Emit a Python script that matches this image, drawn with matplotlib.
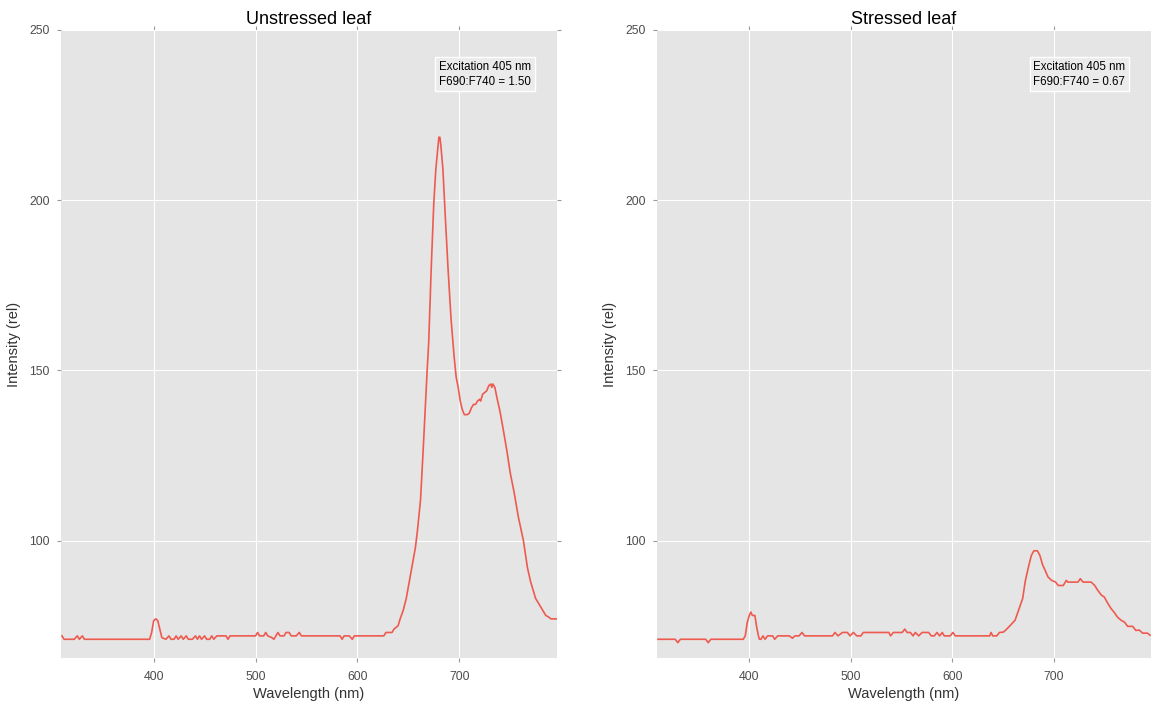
import matplotlib
matplotlib.use("Agg")
import matplotlib.pyplot as plt

plt.rcParams['font.family'] = ['Liberation Sans', 'DejaVu Sans']

# Unstressed leaf spectrum (wavelength nm, relative intensity)
wl_unstressed = [310, 312, 322, 325, 327, 330, 332, 396, 398, 400, 402, 404, 406, 408, 412, 415, 417,
                 420, 422, 424, 427, 429, 432, 434, 438, 441, 443, 445, 447, 450, 452, 455, 457, 459,
                 462, 471, 473, 475, 500, 502, 504, 508, 510, 512, 516, 518, 520, 522, 524, 528, 530,
                 533, 535, 540, 543, 545, 583, 585, 587, 592, 595, 597, 626, 628, 634, 636, 640, 642,
                 645, 648, 651, 654, 657, 659, 662, 664.5, 667, 668.5, 670, 672.5, 675, 677, 679, 680,
                 681, 682, 684, 686, 689, 692, 695, 697, 699, 701, 703, 705, 708, 710, 712, 714, 716,
                 718, 720, 721, 723, 725, 727, 729, 731, 732, 733, 735, 737, 740, 743, 747, 750, 754,
                 758, 763, 765, 767, 770, 773, 775, 777, 779, 781, 783, 785, 788, 790, 796]
int_unstressed = [72, 71, 71, 72, 71, 72, 71, 71, 73, 76.5, 77, 76.5, 74, 71.5, 71, 72, 71,
                  71, 72, 71, 72, 71, 72, 71, 71, 72, 71, 72, 71, 72, 71, 71, 72, 71,
                  72, 72, 71, 72, 72, 73, 72, 72, 73, 72, 71.5, 71, 72, 73, 72, 72, 73,
                  73, 72, 72, 73, 72, 72, 71, 72, 72, 71, 72, 72, 73, 73, 74, 75, 77,
                  79.5, 83, 88, 93, 98, 103, 112, 126, 141, 150, 158, 180, 199, 209, 215.5, 218.5,
                  218.5, 216, 209, 197, 180, 165, 154, 148, 145, 141, 138.5, 137, 137, 137.5, 139, 140, 140,
                  141, 141.5, 141, 143, 143.5, 144, 145.5, 146, 145, 146, 145, 142, 138, 133, 126, 120, 114,
                  107, 100, 96, 92, 88, 85, 83, 82, 81, 80, 79, 78, 77.5, 77, 77]

# Stressed leaf spectrum
wl_stressed = [310, 327, 329.5, 332, 357, 359.5, 362, 394, 396, 398, 400, 401.5, 403, 405.5, 407, 409,
               410, 411.5, 413.5, 415.5, 418, 423, 425, 428, 439.5, 442.5, 445, 449, 452, 454.5, 482,
               484.5, 487.5, 491.8, 496.7, 499.3, 502.6, 506, 510, 512.4, 537.6, 539.2, 542, 550.7,
               553.3, 555.6, 558.8, 561.4, 563.7, 567, 570.3, 576.8, 579.4, 582.4, 585, 587.6, 590.2,
               592.2, 598, 600.7, 603, 637, 638.3, 640, 644, 646.6, 650.5, 653.8, 657, 662, 666, 669.5,
               672, 675, 678, 680.5, 684, 686.5, 689, 692, 694.5, 698, 702, 704.5, 709.5, 712.5, 714,
               724, 726.3, 729, 737, 740.5, 743.5, 747, 750, 753.5, 756.7, 760, 763, 766.5, 770, 773,
               778, 781, 784.5, 787.7, 792.5, 795]
int_stressed = [71, 71, 70, 71, 71, 70, 71, 71, 72, 76, 78, 79, 78, 78, 75, 72,
                71, 71, 72, 71, 72, 72, 71, 72, 72, 71.3, 72, 72, 73, 72, 72,
                73, 72, 73, 73, 72, 73, 72, 72, 73, 73, 72, 73, 73,
                74, 73, 73, 72, 73, 72, 73, 73, 72, 72, 73, 72, 73,
                72, 72, 73, 72, 72, 73, 72, 72, 73, 73.1, 74, 75, 76.6, 80, 83,
                88, 92, 95.6, 97, 97, 95.6, 93, 91, 89.3, 88.3, 87.8, 86.8, 86.8, 88.3, 87.8,
                87.8, 88.8, 87.8, 87.8, 86.8, 85.4, 84, 83.4, 81.5, 80, 78.8, 77.5, 76.6, 76, 74.8,
                74.8, 73.6, 73.7, 72.8, 72.8, 72.2]

titles = ["Unstressed leaf", "Stressed leaf"]
notes = ["Excitation 405 nm\nF690:F740 = 1.50", "Excitation 405 nm\nF690:F740 = 0.67"]
x_ticks = [400, 500, 600, 700]
y_ticks = [100, 150, 200, 250]

W, H = 1151, 707
fig = plt.figure(figsize=(W / 100, H / 100), dpi=100)
panels = [(61, 557), (657, 1151)]
top_px, bot_px = 30, 658

line_color = '#EE5A4F'
series = [(wl_unstressed, int_unstressed), (wl_stressed, int_stressed)]

for (l, r), title, note, (xs, ys) in zip(panels, titles, notes, series):
    ax = fig.add_axes([l / W, 1 - bot_px / H, (r - l) / W, (bot_px - top_px) / H])
    ax.set_facecolor('#E5E5E5')
    for s in ax.spines.values():
        s.set_visible(False)
    ax.plot(xs, ys, color=line_color, lw=1.2, zorder=3)
    ax.set_xlim(309, 796)
    ax.set_ylim(65.5, 250)
    ax.set_xticks(x_ticks)
    ax.set_yticks(y_ticks)
    ax.grid(True, color='white', lw=0.8, zorder=0)
    ax.set_axisbelow(True)
    ax.tick_params(axis='both', which='both', direction='out', length=3, width=0.8,
                   color='#999999', labelcolor='#4D4D4D', labelsize=8.8,
                   top=True, right=True, labeltop=False, labelright=False)
    ax.tick_params(axis='x', pad=6)
    ax.tick_params(axis='y', pad=5)
    ax.set_title(title, fontsize=13, color='black', pad=4)
    ax.set_xlabel("Wavelength (nm)", fontsize=10.5, color='#333333', labelpad=3)
    ax.set_ylabel("Intensity (rel)", fontsize=10.5, color='#333333', labelpad=6)
    ax.text(0.762, 0.951, note, transform=ax.transAxes, ha='left', va='top',
            fontsize=8.3, color='black', linespacing=1.35, zorder=5,
            bbox=dict(boxstyle='square,pad=0.3', facecolor='#EBEBEB', edgecolor='white', lw=1))

fig.savefig('out.png', dpi=100)
